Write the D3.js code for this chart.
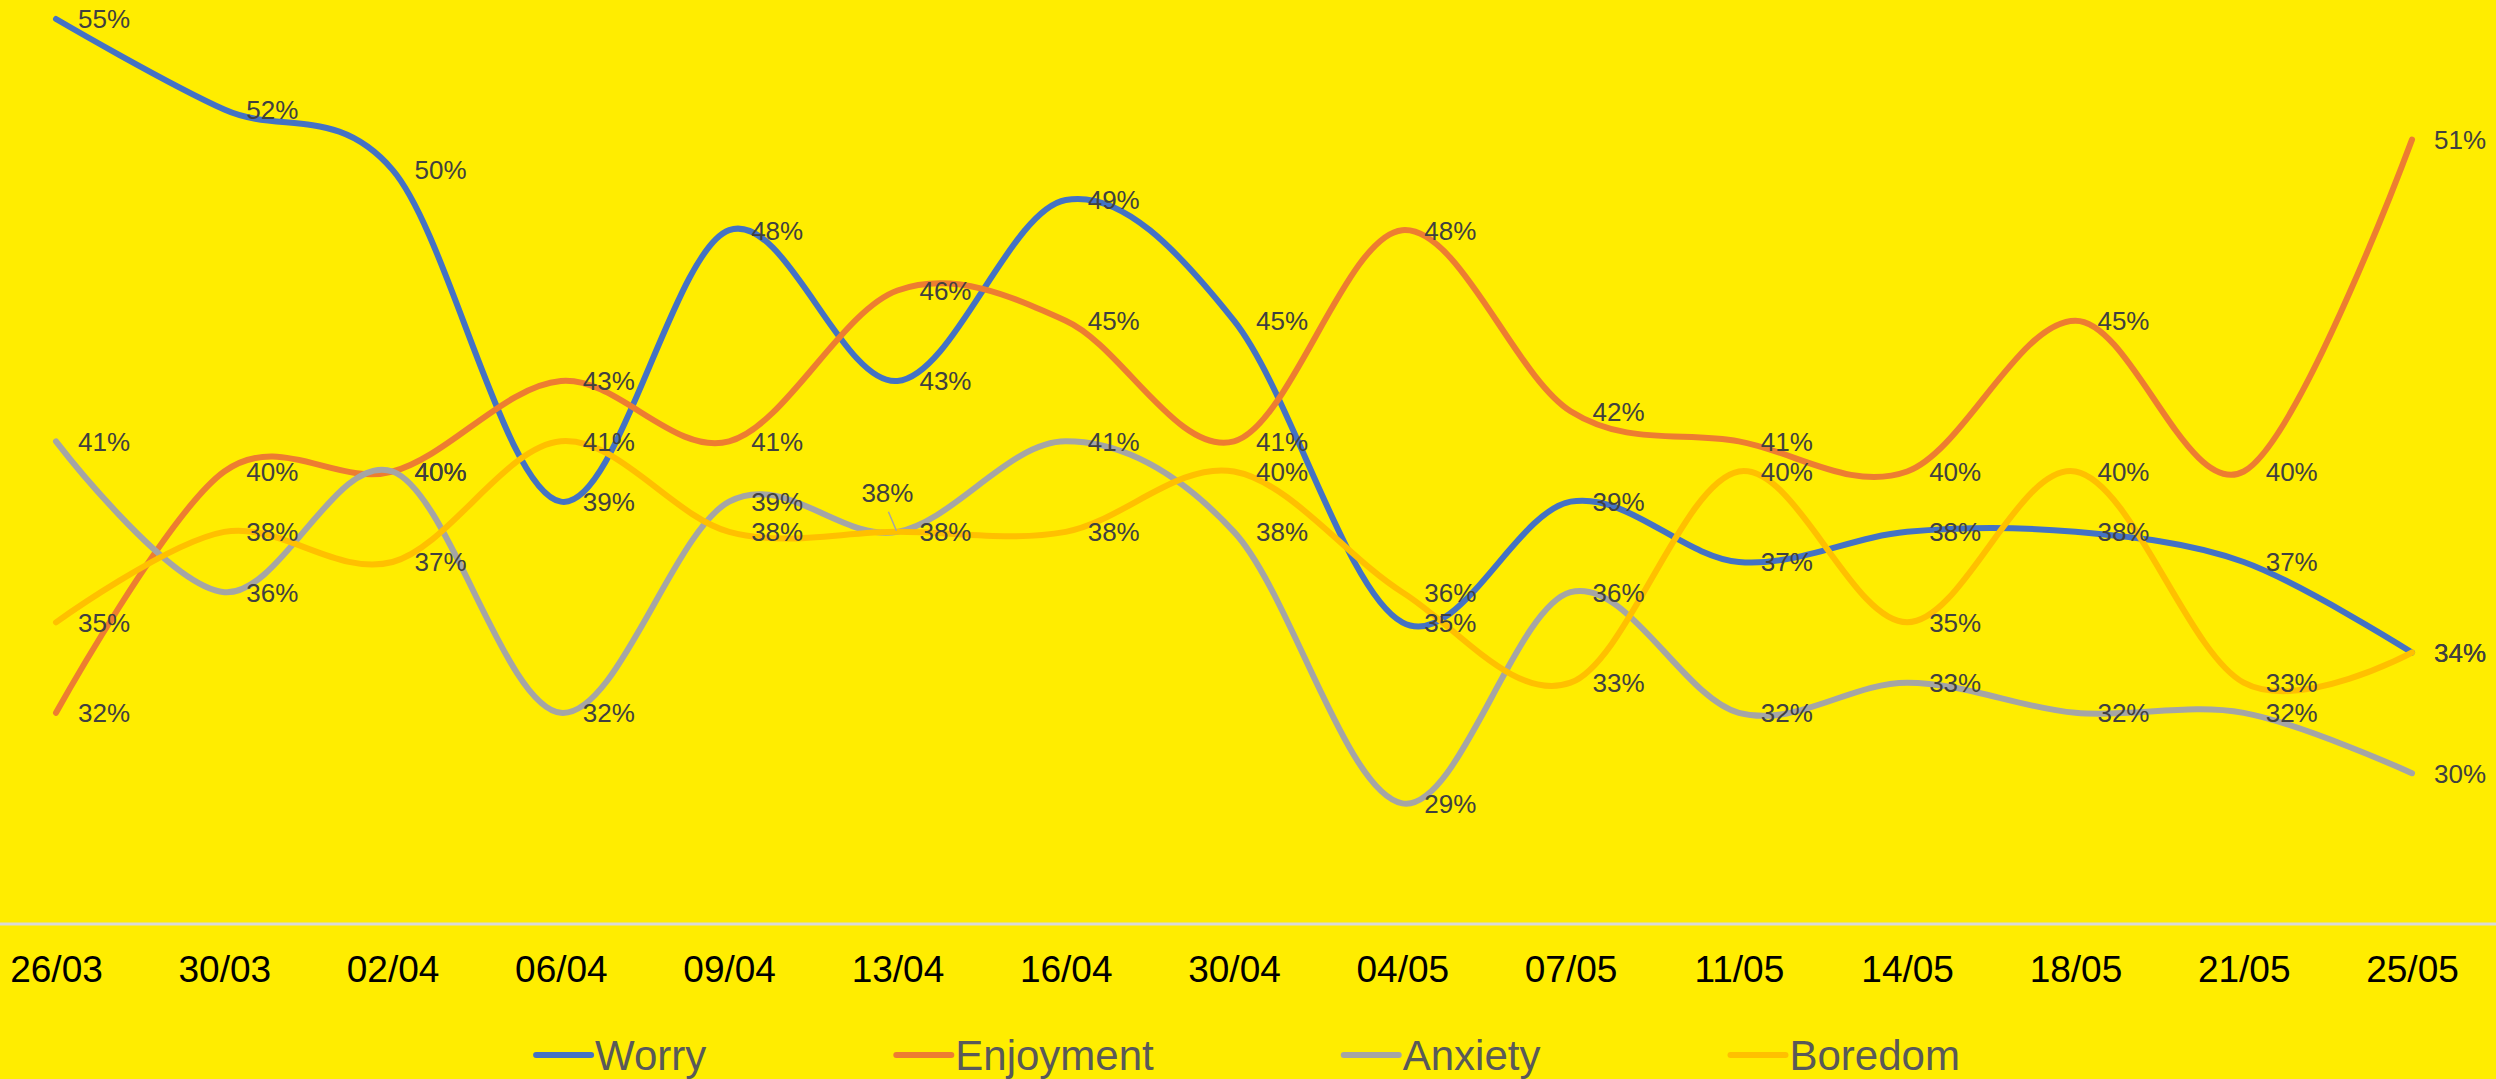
<!DOCTYPE html>
<html>
<head>
<meta charset="utf-8">
<script src="https://cdn.jsdelivr.net/npm/d3@7"></script>
<style>
  html, body { margin: 0; padding: 0; background: #FFED00; overflow: hidden; }
  svg { display: block; }
</style>
</head>
<body>
<script>
const categories = ["26/03","30/03","02/04","06/04","09/04","13/04","16/04","30/04","04/05","07/05","11/05","14/05","18/05","21/05","25/05"];
const worry      = [0.55,0.52,0.50,0.39,0.48,0.43,0.49,0.45,0.35,0.39,0.37,0.38,0.38,0.37,0.34];
const enjoyment  = [0.32,0.40,0.40,0.43,0.41,0.46,0.45,0.41,0.48,0.42,0.41,0.40,0.45,0.40,0.51];
const anxiety    = [0.41,0.36,0.40,0.32,0.39,0.38,0.41,0.38,0.29,0.36,0.32,0.33,0.32,0.32,0.30];
const boredom    = [0.35,0.38,0.37,0.41,0.38,0.38,0.38,0.40,0.36,0.33,0.40,0.35,0.40,0.33,0.34];
const seriesNames = ["Worry","Enjoyment","Anxiety","Boredom"];
const seriesColors = ["#4472C4","#ED7D31","#A5A5A5","#FFC000"];
const yDomain = [0.25, 0.55];
// labels the author dragged off their point (drawn with a leader line)
const movedLabels = [{series: "Anxiety", category: "13/04"}];

const W = 2496, H = 1079;
const series = [worry, enjoyment, anxiety, boredom].map((v, i) => ({name: seriesNames[i], color: seriesColors[i], values: v}));

const svg = d3.select("body").append("svg").attr("width", W).attr("height", H);
svg.append("rect").attr("width", W).attr("height", H).attr("fill", "#FFED00");

const x = d3.scalePoint().domain(categories).range([56, 2412]);
const y = d3.scaleLinear().domain(yDomain).range([924, 19]);

// category axis line spanning the whole chart
svg.append("line").attr("x1", 0).attr("x2", W).attr("y1", y(yDomain[0])).attr("y2", y(yDomain[0]))
  .attr("stroke", "#D9D9D9").attr("stroke-width", 3);

const xAxis = d3.axisBottom(x).tickSize(0).tickPadding(0);
const gx = svg.append("g").attr("transform", `translate(0, ${y(yDomain[0])})`).call(xAxis);
gx.select(".domain").remove();
gx.selectAll("text")
  .attr("y", 58).attr("dy", 0)
  .attr("font-family", "Arial, 'Liberation Sans', sans-serif")
  .attr("font-size", 37).attr("fill", "#000");

const line = d3.line()
  .x((d, i) => x(categories[i]))
  .y(d => y(d))
  .curve(d3.curveCardinal.tension(0));

series.forEach(s => {
  svg.append("path").datum(s.values)
    .attr("d", line).attr("fill", "none")
    .attr("stroke", s.color).attr("stroke-width", 6)
    .attr("stroke-linecap", "round").attr("stroke-linejoin", "round");
});

// data labels
const labelG = svg.append("g")
  .attr("font-family", "Arial, 'Liberation Sans', sans-serif")
  .attr("font-size", 26).attr("fill", "#404040");
series.forEach(s => {
  s.values.forEach((v, i) => {
    const px = x(categories[i]), py = y(v);
    const txt = d3.format(".0%")(v);
    const moved = movedLabels.some(m => m.series === s.name && m.category === categories[i]);
    if (moved) {
      labelG.append("line")
        .attr("x1", px - 9).attr("y1", py - 20).attr("x2", px - 1).attr("y2", py - 1)
        .attr("stroke", "#A5A5A5").attr("stroke-width", 1.5);
      labelG.append("text").attr("x", px - 10).attr("y", py - 39)
        .attr("dy", "0.36em").attr("text-anchor", "middle").text(txt);
    } else {
      labelG.append("text").attr("x", px + 22).attr("y", py)
        .attr("dy", "0.36em").text(txt);
    }
  });
});

// legend
const legendY = 1055;
const legendG = svg.append("g");
const lineLen = 55, textGap = 4, itemGap = 190;
let cursor = 0;
const items = series.map(s => {
  const g = legendG.append("g");
  g.append("line").attr("x1", 0).attr("x2", lineLen).attr("y1", 0).attr("y2", 0)
    .attr("stroke", s.color).attr("stroke-width", 6).attr("stroke-linecap", "round");
  const t = g.append("text").attr("x", lineLen + textGap).attr("y", 0).attr("dy", "0.36em")
    .attr("font-family", "Arial, 'Liberation Sans', sans-serif")
    .attr("font-size", 42).attr("fill", "#595959").text(s.name);
  const w = lineLen + textGap + t.node().getComputedTextLength();
  g.attr("data-x", cursor);
  const item = {g, x: cursor, w};
  cursor += w + itemGap;
  return item;
});
const total = cursor - itemGap;
const startX = (W - total) / 2;
items.forEach(it => it.g.attr("transform", `translate(${startX + it.x}, ${legendY})`));
</script>
</body>
</html>
